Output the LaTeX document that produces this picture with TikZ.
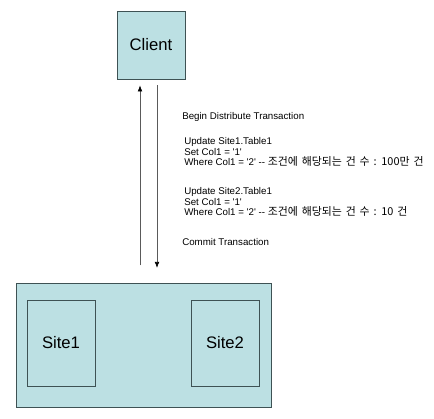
\documentclass[tikz,border=0pt]{standalone}
\usepackage{fontspec}
\setmainfont{Liberation Sans}
\newfontfamily\krfont[Scale=1.12, WordSpace=1.6]{Noto Sans CJK KR}
\definecolor{boxfill}{RGB}{188,224,227}
\definecolor{boxline}{RGB}{62,82,84}
\definecolor{wire}{RGB}{90,90,90}
\tikzset{
  sitebox/.style={draw=boxline, fill=boxfill, line width=0.6pt, font=\fontsize{12.5}{14}\selectfont},
  flow/.style={draw=wire, line width=0.5pt, -{Latex[length=4.5pt,width=3.5pt,black]}},
  sqlnote/.style={anchor=west, align=left, inner sep=0pt, font=\fontsize{7.3}{7.8}\selectfont}
}
\usetikzlibrary{arrows.meta}
\newcommand{\sq}{\textquotesingle}
\begin{document}
\begin{tikzpicture}[x=0.75pt, y=-0.75pt]

        % Frame
        \useasboundingbox (0,0) rectangle (434,418);

        % Client
        \node[sitebox, minimum width=51pt, minimum height=51pt] (client) at (151,45) {Client};

        % Sites
        \node[sitebox, minimum width=191.25pt, minimum height=93pt] (sites) at (143.5,345) {};
        \node[sitebox, minimum width=51pt, minimum height=64.5pt] (site1) at (61,343) {Site1};
        \node[sitebox, minimum width=51pt, minimum height=64.5pt] (site2) at (225,343) {Site2};

        % Requests and replies
        \draw[flow, shorten <=13pt, shorten >=4.5pt] (sites.north -| 140,0) -- (client.south -| 140,0);
        \draw[flow, shorten <=4.5pt, shorten >=11pt] (client.south -| 157,0) -- (sites.north -| 157,0);

        % Transaction
        \node[sqlnote] (begintx) at (182,117) {Begin Distribute Transaction};
        \node[sqlnote] (upd1) at (184,152) {Update Site1.Table1\\Set Col1 = \sq1\sq\\Where Col1 = \sq2\sq\ -{}- {\krfont 조건에 해당되는 건 수 : 100만 건}};
        \node[sqlnote] (upd2) at (184,202) {Update Site2.Table1\\Set Col1 = \sq1\sq\\Where Col1 = \sq2\sq\ -{}- {\krfont 조건에 해당되는 건 수 : 10 건}};
        \node[sqlnote] (committx) at (182,242) {Commit Transaction};

    \end{tikzpicture}
\end{document}
